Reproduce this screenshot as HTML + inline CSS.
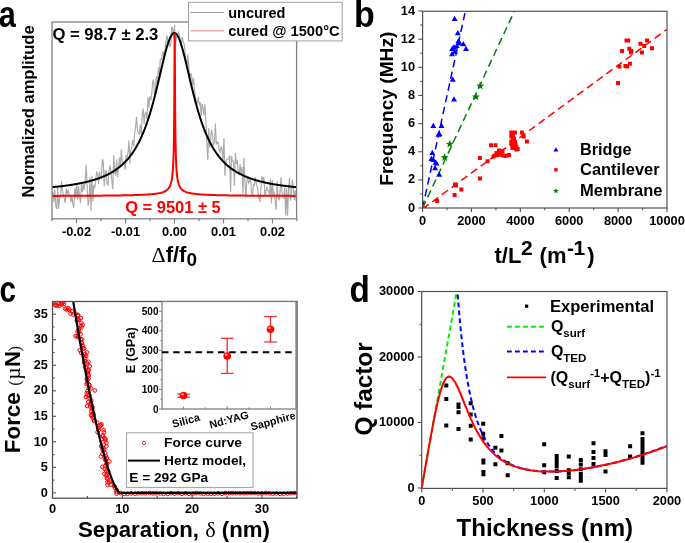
<!DOCTYPE html>
<html><head><meta charset="utf-8"><style>
html,body{margin:0;padding:0;background:#fff;}
svg{display:block;font-family:"Liberation Sans", sans-serif;will-change:transform;}
</style></head><body>
<svg width="685" height="543" viewBox="0 0 685 543">
<rect width="685" height="543" fill="#fff"/>
<clipPath id="ca"><rect x="52.0" y="22.0" width="244.60000000000002" height="196.8"/></clipPath>
<path d="M52 194.53 L52.95 191.61 L53.9 202.16 L54.85 189.24 L55.8 205.91 L56.75 209.05 L57.7 186.49 L58.65 208.85 L59.6 198.36 L60.55 196.59 L61.5 181.12 L62.45 190.49 L63.4 194.32 L64.35 198.91 L65.3 202.9 L66.25 188.55 L67.2 193.89 L68.15 189.93 L69.1 194.95 L70.05 196.03 L71 202.36 L71.95 196.21 L72.9 204.43 L73.85 207.5 L74.8 187.94 L75.75 198.07 L76.7 183.83 L77.65 199.58 L78.6 186.05 L79.55 196.16 L80.5 203.26 L81.45 182.95 L82.4 192.05 L83.35 183.82 L84.3 189.72 L85.25 180.23 L86.2 164.69 L87.15 185.21 L88.1 205.52 L89.05 201.13 L90 176.92 L90.95 210.96 L91.9 175.71 L92.85 201.49 L93.8 185.14 L94.75 187.36 L95.7 180.92 L96.65 172.11 L97.6 173.2 L98.55 183.91 L99.5 171.55 L100.45 177.96 L101.4 178.65 L102.35 159.16 L103.3 161.9 L104.25 186.23 L105.2 171.14 L106.15 170.72 L107.1 183.8 L108.05 184.97 L109 170.01 L109.95 165.29 L110.9 172.7 L111.85 179.87 L112.8 189.22 L113.75 155.63 L114.7 171.62 L115.65 175.52 L116.6 159.26 L117.55 176.89 L118.5 167.68 L119.45 157.65 L120.4 167.07 L121.35 149.62 L122.3 162.35 L123.25 162.47 L124.2 162.52 L125.15 169.8 L126.1 155.76 L127.05 156.85 L128 152.63 L128.95 140.42 L129.9 163.47 L130.85 149.59 L131.8 147.21 L132.75 140.09 L133.7 146.46 L134.65 133.09 L135.6 126.83 L136.55 116.81 L137.5 129.81 L138.45 132.8 L139.4 134.05 L140.35 124.61 L141.3 135.45 L142.25 113.53 L143.2 108.64 L144.15 123.96 L145.1 113.18 L146.05 112.59 L147 119.56 L147.95 97.38 L148.9 107.64 L149.85 96.4 L150.8 100.48 L151.75 93.93 L152.7 81.82 L153.65 79.52 L154.6 98.33 L155.55 87.27 L156.5 76.39 L157.45 84.99 L158.4 67.64 L159.35 74.08 L160.3 59.22 L161.25 59.57 L162.2 55.28 L163.15 51.41 L164.1 58.7 L165.05 51.08 L166 40.85 L166.95 35.27 L167.9 41.27 L168.85 40.74 L169.8 46.49 L170.75 45.32 L171.7 27.11 L172.65 27.96 L173.6 38.08 L174.55 25.07 L175.5 47.39 L176.45 37.03 L177.4 34.2 L178.35 32.21 L179.3 34.83 L180.25 39.82 L181.2 45.23 L182.15 36.94 L183.1 41.51 L184.05 43.54 L185 51.53 L185.95 63.55 L186.9 65.95 L187.85 54 L188.8 66.35 L189.75 78.04 L190.7 73.01 L191.65 76.02 L192.6 84.96 L193.55 78.14 L194.5 90.94 L195.45 97.79 L196.4 101.58 L197.35 102.53 L198.3 97.14 L199.25 104.61 L200.2 102.3 L201.15 116.29 L202.1 103.78 L203.05 108.62 L204 115.46 L204.95 104.27 L205.9 120.24 L206.85 142.78 L207.8 160.19 L208.75 128.29 L209.7 147.66 L210.65 138.78 L211.6 129.57 L212.55 134.84 L213.5 145.44 L214.45 142.67 L215.4 123.45 L216.35 144.5 L217.3 142.41 L218.25 142.31 L219.2 150.28 L220.15 152.13 L221.1 146.43 L222.05 149.47 L223 160.68 L223.95 138.04 L224.9 176.03 L225.85 161.8 L226.8 159.67 L227.75 159.2 L228.7 158.57 L229.65 155.46 L230.6 191.95 L231.55 156.06 L232.5 161.24 L233.45 161.33 L234.4 185.47 L235.35 153.07 L236.3 163.96 L237.25 160.14 L238.2 171.81 L239.15 175.47 L240.1 164.01 L241.05 174.2 L242 166.88 L242.95 193.84 L243.9 157.45 L244.85 180.29 L245.8 197.78 L246.75 181.84 L247.7 176.14 L248.65 182.97 L249.6 181.42 L250.55 179.05 L251.5 192.39 L252.45 196.15 L253.4 184.27 L254.35 185.27 L255.3 177.09 L256.25 183.23 L257.2 186.03 L258.15 193.21 L259.1 198.49 L260.05 202.22 L261 187.53 L261.95 176.38 L262.9 180.76 L263.85 176.87 L264.8 195.18 L265.75 192.83 L266.7 187.04 L267.65 190.33 L268.6 191.11 L269.55 195.07 L270.5 178.63 L271.45 203.5 L272.4 180.05 L273.35 195.3 L274.3 193.13 L275.25 201.69 L276.2 209.65 L277.15 181.35 L278.1 196.77 L279.05 200.31 L280 192.59 L280.95 177.2 L281.9 191.07 L282.85 196.74 L283.8 197.88 L284.75 187.46 L285.7 215.63 L286.65 188.29 L287.6 215.85 L288.55 188.35 L289.5 177.95 L290.45 200.45 L291.4 196.25 L292.35 179.66 L293.3 187.74 L294.25 199.92 L295.2 190.41 L296.15 201.54 L297.1 198.23" fill="none" stroke="#aaaaaa" stroke-width="1.15" clip-path="url(#ca)"/>
<path d="M52 187.22 L52.5 187.17 L53 187.12 L53.5 187.08 L54 187.03 L54.5 186.98 L55 186.92 L55.5 186.87 L56 186.82 L56.5 186.77 L57 186.71 L57.5 186.66 L58 186.61 L58.5 186.55 L59 186.49 L59.5 186.44 L60 186.38 L60.5 186.32 L61 186.26 L61.5 186.2 L62 186.14 L62.5 186.08 L63 186.02 L63.5 185.96 L64 185.89 L64.5 185.83 L65 185.76 L65.5 185.7 L66 185.63 L66.5 185.56 L67 185.49 L67.5 185.42 L68 185.35 L68.5 185.28 L69 185.21 L69.5 185.14 L70 185.06 L70.5 184.99 L71 184.91 L71.5 184.83 L72 184.75 L72.5 184.67 L73 184.59 L73.5 184.51 L74 184.43 L74.5 184.35 L75 184.26 L75.5 184.17 L76 184.09 L76.5 184 L77 183.91 L77.5 183.82 L78 183.72 L78.5 183.63 L79 183.53 L79.5 183.44 L80 183.34 L80.5 183.24 L81 183.14 L81.5 183.03 L82 182.93 L82.5 182.82 L83 182.72 L83.5 182.61 L84 182.5 L84.5 182.39 L85 182.27 L85.5 182.16 L86 182.04 L86.5 181.92 L87 181.8 L87.5 181.67 L88 181.55 L88.5 181.42 L89 181.29 L89.5 181.16 L90 181.03 L90.5 180.89 L91 180.76 L91.5 180.62 L92 180.47 L92.5 180.33 L93 180.18 L93.5 180.03 L94 179.88 L94.5 179.73 L95 179.57 L95.5 179.41 L96 179.25 L96.5 179.09 L97 178.92 L97.5 178.75 L98 178.57 L98.5 178.4 L99 178.22 L99.5 178.03 L100 177.85 L100.5 177.66 L101 177.47 L101.5 177.27 L102 177.07 L102.5 176.87 L103 176.66 L103.5 176.45 L104 176.23 L104.5 176.02 L105 175.79 L105.5 175.57 L106 175.34 L106.5 175.1 L107 174.86 L107.5 174.62 L108 174.37 L108.5 174.11 L109 173.85 L109.5 173.59 L110 173.32 L110.5 173.05 L111 172.77 L111.5 172.48 L112 172.19 L112.5 171.89 L113 171.59 L113.5 171.28 L114 170.97 L114.5 170.65 L115 170.32 L115.5 169.98 L116 169.64 L116.5 169.29 L117 168.94 L117.5 168.57 L118 168.2 L118.5 167.82 L119 167.44 L119.5 167.04 L120 166.64 L120.5 166.22 L121 165.8 L121.5 165.37 L122 164.93 L122.5 164.48 L123 164.02 L123.5 163.55 L124 163.06 L124.5 162.57 L125 162.07 L125.5 161.55 L126 161.03 L126.5 160.49 L127 159.94 L127.5 159.37 L128 158.8 L128.5 158.21 L129 157.6 L129.5 156.98 L130 156.35 L130.5 155.7 L131 155.04 L131.5 154.36 L132 153.67 L132.5 152.95 L133 152.22 L133.5 151.48 L134 150.71 L134.5 149.93 L135 149.13 L135.5 148.31 L136 147.46 L136.5 146.6 L137 145.72 L137.5 144.81 L138 143.88 L138.5 142.93 L139 141.96 L139.5 140.96 L140 139.94 L140.5 138.89 L141 137.82 L141.5 136.72 L142 135.59 L142.5 134.44 L143 133.26 L143.5 132.05 L144 130.81 L144.5 129.54 L145 128.24 L145.5 126.91 L146 125.55 L146.5 124.15 L147 122.73 L147.5 121.27 L148 119.78 L148.5 118.25 L149 116.7 L149.5 115.1 L150 113.48 L150.5 111.82 L151 110.13 L151.5 108.4 L152 106.64 L152.5 104.85 L153 103.02 L153.5 101.16 L154 99.27 L154.5 97.35 L155 95.4 L155.5 93.42 L156 91.42 L156.5 89.39 L157 87.33 L157.5 85.26 L158 83.16 L158.5 81.06 L159 78.93 L159.5 76.8 L160 74.66 L160.5 72.52 L161 70.38 L161.5 68.24 L162 66.12 L162.5 64.01 L163 61.92 L163.5 59.85 L164 57.82 L164.5 55.82 L165 53.86 L165.5 51.96 L166 50.11 L166.5 48.32 L167 46.6 L167.5 44.96 L168 43.4 L168.5 41.92 L169 40.54 L169.5 39.26 L170 38.09 L170.5 37.03 L171 36.08 L171.5 35.25 L172 34.55 L172.5 33.97 L173 33.53 L173.5 33.22 L174 33.04 L174.5 33 L175 33.1 L175.5 33.33 L176 33.69 L176.5 34.19 L177 34.81 L177.5 35.57 L178 36.44 L178.5 37.44 L179 38.55 L179.5 39.76 L180 41.08 L180.5 42.5 L181 44.01 L181.5 45.61 L182 47.28 L182.5 49.03 L183 50.84 L183.5 52.72 L184 54.64 L184.5 56.61 L185 58.63 L185.5 60.67 L186 62.75 L186.5 64.85 L187 66.97 L187.5 69.1 L188 71.23 L188.5 73.38 L189 75.52 L189.5 77.65 L190 79.78 L190.5 81.9 L191 84 L191.5 86.09 L192 88.16 L192.5 90.2 L193 92.22 L193.5 94.22 L194 96.18 L194.5 98.12 L195 100.03 L195.5 101.91 L196 103.75 L196.5 105.57 L197 107.35 L197.5 109.09 L198 110.81 L198.5 112.49 L199 114.13 L199.5 115.75 L200 117.32 L200.5 118.87 L201 120.38 L201.5 121.86 L202 123.3 L202.5 124.71 L203 126.09 L203.5 127.44 L204 128.76 L204.5 130.05 L205 131.31 L205.5 132.53 L206 133.73 L206.5 134.9 L207 136.05 L207.5 137.16 L208 138.25 L208.5 139.31 L209 140.35 L209.5 141.36 L210 142.35 L210.5 143.32 L211 144.26 L211.5 145.18 L212 146.07 L212.5 146.95 L213 147.8 L213.5 148.64 L214 149.45 L214.5 150.25 L215 151.02 L215.5 151.78 L216 152.52 L216.5 153.24 L217 153.95 L217.5 154.64 L218 155.31 L218.5 155.96 L219 156.61 L219.5 157.23 L220 157.85 L220.5 158.45 L221 159.03 L221.5 159.6 L222 160.16 L222.5 160.71 L223 161.24 L223.5 161.76 L224 162.27 L224.5 162.77 L225 163.26 L225.5 163.74 L226 164.2 L226.5 164.66 L227 165.11 L227.5 165.54 L228 165.97 L228.5 166.39 L229 166.8 L229.5 167.2 L230 167.59 L230.5 167.98 L231 168.35 L231.5 168.72 L232 169.08 L232.5 169.43 L233 169.78 L233.5 170.12 L234 170.45 L234.5 170.78 L235 171.1 L235.5 171.41 L236 171.71 L236.5 172.01 L237 172.31 L237.5 172.6 L238 172.88 L238.5 173.16 L239 173.43 L239.5 173.7 L240 173.96 L240.5 174.22 L241 174.47 L241.5 174.71 L242 174.96 L242.5 175.19 L243 175.43 L243.5 175.66 L244 175.88 L244.5 176.1 L245 176.32 L245.5 176.53 L246 176.74 L246.5 176.95 L247 177.15 L247.5 177.35 L248 177.54 L248.5 177.73 L249 177.92 L249.5 178.11 L250 178.29 L250.5 178.47 L251 178.64 L251.5 178.82 L252 178.98 L252.5 179.15 L253 179.32 L253.5 179.48 L254 179.63 L254.5 179.79 L255 179.94 L255.5 180.09 L256 180.24 L256.5 180.39 L257 180.53 L257.5 180.67 L258 180.81 L258.5 180.95 L259 181.08 L259.5 181.22 L260 181.35 L260.5 181.47 L261 181.6 L261.5 181.72 L262 181.85 L262.5 181.97 L263 182.09 L263.5 182.2 L264 182.32 L264.5 182.43 L265 182.54 L265.5 182.65 L266 182.76 L266.5 182.87 L267 182.97 L267.5 183.08 L268 183.18 L268.5 183.28 L269 183.38 L269.5 183.48 L270 183.57 L270.5 183.67 L271 183.76 L271.5 183.85 L272 183.94 L272.5 184.03 L273 184.12 L273.5 184.21 L274 184.29 L274.5 184.38 L275 184.46 L275.5 184.55 L276 184.63 L276.5 184.71 L277 184.79 L277.5 184.86 L278 184.94 L278.5 185.02 L279 185.09 L279.5 185.17 L280 185.24 L280.5 185.31 L281 185.38 L281.5 185.45 L282 185.52 L282.5 185.59 L283 185.66 L283.5 185.72 L284 185.79 L284.5 185.85 L285 185.92 L285.5 185.98 L286 186.04 L286.5 186.11 L287 186.17 L287.5 186.23 L288 186.29 L288.5 186.34 L289 186.4 L289.5 186.46 L290 186.52 L290.5 186.57 L291 186.63 L291.5 186.68 L292 186.74 L292.5 186.79 L293 186.84 L293.5 186.89 L294 186.94 L294.5 187 L295 187.05 L295.5 187.1 L296 187.14 L296.5 187.19" fill="none" stroke="#000" stroke-width="2" clip-path="url(#ca)"/>
<path d="M52 195.9 L53 195.9 L54 195.89 L55 195.89 L56 195.89 L57 195.88 L58 195.88 L59 195.88 L60 195.87 L61 195.87 L62 195.87 L63 195.86 L64 195.86 L65 195.85 L66 195.85 L67 195.85 L68 195.84 L69 195.84 L70 195.83 L71 195.83 L72 195.82 L73 195.82 L74 195.81 L75 195.81 L76 195.8 L77 195.8 L78 195.79 L79 195.79 L80 195.78 L81 195.78 L82 195.77 L83 195.77 L84 195.76 L85 195.75 L86 195.75 L87 195.74 L88 195.73 L89 195.73 L90 195.72 L91 195.71 L92 195.71 L93 195.7 L94 195.69 L95 195.69 L96 195.68 L97 195.67 L98 195.66 L99 195.65 L100 195.64 L101 195.64 L102 195.63 L103 195.62 L104 195.61 L105 195.6 L106 195.59 L107 195.58 L108 195.57 L109 195.55 L110 195.54 L111 195.53 L112 195.52 L113 195.51 L114 195.49 L115 195.48 L116 195.47 L117 195.45 L118 195.44 L119 195.42 L120 195.4 L121 195.39 L122 195.37 L123 195.35 L124 195.33 L125 195.31 L126 195.29 L127 195.27 L128 195.25 L129 195.23 L130 195.2 L131 195.18 L132 195.15 L133 195.13 L134 195.1 L135 195.07 L136 195.03 L137 195 L138 194.97 L139 194.93 L140 194.89 L141 194.85 L142 194.8 L143 194.75 L144 194.7 L145 194.65 L146 194.59 L147 194.53 L148 194.47 L149 194.39 L150 194.32 L151 194.23 L152 194.14 L153 194.04 L154 193.93 L155 193.81 L156 193.68 L157 193.53 L158 193.37 L159 193.18 L160 192.97 L161 192.72 L162 192.44 L163 192.11 L164 191.72 L165 191.25 L166 190.67 L167 189.94 L167.05 189.9 L167.1 189.86 L167.15 189.82 L167.2 189.77 L167.25 189.73 L167.3 189.69 L167.35 189.64 L167.4 189.59 L167.45 189.55 L167.5 189.5 L167.55 189.45 L167.6 189.41 L167.65 189.36 L167.7 189.31 L167.75 189.26 L167.8 189.21 L167.85 189.16 L167.9 189.1 L167.95 189.05 L168 189 L168.05 188.94 L168.1 188.88 L168.15 188.83 L168.2 188.77 L168.25 188.71 L168.3 188.65 L168.35 188.59 L168.4 188.53 L168.45 188.47 L168.5 188.41 L168.55 188.34 L168.6 188.28 L168.65 188.21 L168.7 188.15 L168.75 188.08 L168.8 188.01 L168.85 187.94 L168.9 187.86 L168.95 187.79 L169 187.72 L169.05 187.64 L169.1 187.56 L169.15 187.49 L169.2 187.41 L169.25 187.32 L169.3 187.24 L169.35 187.16 L169.4 187.07 L169.45 186.98 L169.5 186.89 L169.55 186.8 L169.6 186.71 L169.65 186.62 L169.7 186.52 L169.75 186.42 L169.8 186.32 L169.85 186.22 L169.9 186.11 L169.95 186.01 L170 185.9 L170.05 185.79 L170.1 185.67 L170.15 185.56 L170.2 185.44 L170.25 185.32 L170.3 185.19 L170.35 185.06 L170.4 184.93 L170.45 184.8 L170.5 184.67 L170.55 184.53 L170.6 184.38 L170.65 184.24 L170.7 184.09 L170.75 183.93 L170.8 183.78 L170.85 183.61 L170.9 183.45 L170.95 183.28 L171 183.1 L171.05 182.92 L171.1 182.74 L171.15 182.55 L171.2 182.35 L171.25 182.15 L171.3 181.95 L171.35 181.73 L171.4 181.52 L171.45 181.29 L171.5 181.06 L171.55 180.82 L171.6 180.57 L171.65 180.31 L171.7 180.05 L171.75 179.78 L171.8 179.5 L171.85 179.2 L171.9 178.9 L171.95 178.59 L172 178.27 L172.05 177.93 L172.1 177.58 L172.15 177.22 L172.2 176.84 L172.25 176.45 L172.3 176.05 L172.35 175.62 L172.4 175.18 L172.45 174.72 L172.5 174.24 L172.55 173.73 L172.6 173.21 L172.65 172.65 L172.7 172.08 L172.75 171.47 L172.8 170.83 L172.85 170.16 L172.9 169.45 L172.95 168.71 L173 167.92 L173.05 167.09 L173.1 166.21 L173.15 165.27 L173.2 164.27 L173.25 163.21 L173.3 162.08 L173.35 160.88 L173.4 159.58 L173.45 158.19 L173.5 156.69 L173.55 155.08 L173.6 153.33 L173.65 151.44 L173.7 149.38 L173.75 147.13 L173.8 144.66 L173.85 141.95 L173.9 138.96 L173.95 135.65 L174 131.97 L174.05 127.87 L174.1 123.27 L174.15 118.1 L174.2 112.28 L174.25 105.72 L174.3 98.32 L174.35 90.03 L174.4 80.83 L174.45 70.85 L174.5 60.43 L174.55 50.24 L174.6 41.38 L174.65 35.22 L174.7 33 L174.75 35.22 L174.8 41.38 L174.85 50.24 L174.9 60.43 L174.95 70.85 L175 80.83 L175.05 90.03 L175.1 98.32 L175.15 105.72 L175.2 112.28 L175.25 118.1 L175.3 123.27 L175.35 127.87 L175.4 131.97 L175.45 135.65 L175.5 138.96 L175.55 141.95 L175.6 144.66 L175.65 147.13 L175.7 149.38 L175.75 151.44 L175.8 153.33 L175.85 155.08 L175.9 156.69 L175.95 158.19 L176 159.58 L176.05 160.88 L176.1 162.08 L176.15 163.21 L176.2 164.27 L176.25 165.27 L176.3 166.21 L176.35 167.09 L176.4 167.92 L176.45 168.71 L176.5 169.45 L176.55 170.16 L176.6 170.83 L176.65 171.47 L176.7 172.08 L176.75 172.65 L176.8 173.21 L176.85 173.73 L176.9 174.24 L176.95 174.72 L177 175.18 L177.05 175.62 L177.1 176.05 L177.15 176.45 L177.2 176.84 L177.25 177.22 L177.3 177.58 L177.35 177.93 L177.4 178.27 L177.45 178.59 L177.5 178.9 L177.55 179.2 L177.6 179.5 L177.65 179.78 L177.7 180.05 L177.75 180.31 L177.8 180.57 L177.85 180.82 L177.9 181.06 L177.95 181.29 L178 181.52 L178.05 181.73 L178.1 181.95 L178.15 182.15 L178.2 182.35 L178.25 182.55 L178.3 182.74 L178.35 182.92 L178.4 183.1 L178.45 183.28 L178.5 183.45 L178.55 183.61 L178.6 183.78 L178.65 183.93 L178.7 184.09 L178.75 184.24 L178.8 184.38 L178.85 184.53 L178.9 184.67 L178.95 184.8 L179 184.93 L179.05 185.06 L179.1 185.19 L179.15 185.32 L179.2 185.44 L179.25 185.56 L179.3 185.67 L179.35 185.79 L179.4 185.9 L179.45 186.01 L179.5 186.11 L179.55 186.22 L179.6 186.32 L179.65 186.42 L179.7 186.52 L179.75 186.62 L179.8 186.71 L179.85 186.8 L179.9 186.89 L179.95 186.98 L180 187.07 L180.05 187.16 L180.1 187.24 L180.15 187.32 L180.2 187.41 L180.25 187.49 L180.3 187.56 L180.35 187.64 L180.4 187.72 L180.45 187.79 L180.5 187.86 L180.55 187.94 L180.6 188.01 L180.65 188.08 L180.7 188.15 L180.75 188.21 L180.8 188.28 L180.85 188.34 L180.9 188.41 L180.95 188.47 L181 188.53 L181.05 188.59 L181.1 188.65 L181.15 188.71 L181.2 188.77 L181.25 188.83 L181.3 188.88 L181.35 188.94 L181.4 189 L181.45 189.05 L181.5 189.1 L181.55 189.16 L181.6 189.21 L181.65 189.26 L181.7 189.31 L181.75 189.36 L181.8 189.41 L181.85 189.45 L181.9 189.5 L181.95 189.55 L182 189.59 L182.05 189.64 L182.1 189.69 L182.15 189.73 L182.2 189.77 L182.25 189.82 L182.3 189.86 L182.35 189.9 L182.4 189.94 L182.45 189.98 L182.5 190.02 L182.55 190.06 L182.6 190.1 L182.65 190.14 L182.7 190.18 L183.7 190.86 L184.7 191.4 L185.7 191.85 L186.7 192.22 L187.7 192.53 L188.7 192.8 L189.7 193.03 L190.7 193.24 L191.7 193.42 L192.7 193.58 L193.7 193.72 L194.7 193.85 L195.7 193.97 L196.7 194.07 L197.7 194.17 L198.7 194.26 L199.7 194.34 L200.7 194.42 L201.7 194.49 L202.7 194.55 L203.7 194.61 L204.7 194.67 L205.7 194.72 L206.7 194.77 L207.7 194.82 L208.7 194.86 L209.7 194.9 L210.7 194.94 L211.7 194.98 L212.7 195.01 L213.7 195.04 L214.7 195.08 L215.7 195.11 L216.7 195.13 L217.7 195.16 L218.7 195.19 L219.7 195.21 L220.7 195.24 L221.7 195.26 L222.7 195.28 L223.7 195.3 L224.7 195.32 L225.7 195.34 L226.7 195.36 L227.7 195.38 L228.7 195.39 L229.7 195.41 L230.7 195.43 L231.7 195.44 L232.7 195.46 L233.7 195.47 L234.7 195.48 L235.7 195.5 L236.7 195.51 L237.7 195.52 L238.7 195.53 L239.7 195.55 L240.7 195.56 L241.7 195.57 L242.7 195.58 L243.7 195.59 L244.7 195.6 L245.7 195.61 L246.7 195.62 L247.7 195.63 L248.7 195.64 L249.7 195.65 L250.7 195.66 L251.7 195.66 L252.7 195.67 L253.7 195.68 L254.7 195.69 L255.7 195.7 L256.7 195.7 L257.7 195.71 L258.7 195.72 L259.7 195.72 L260.7 195.73 L261.7 195.74 L262.7 195.74 L263.7 195.75 L264.7 195.76 L265.7 195.76 L266.7 195.77 L267.7 195.77 L268.7 195.78 L269.7 195.78 L270.7 195.79 L271.7 195.79 L272.7 195.8 L273.7 195.81 L274.7 195.81 L275.7 195.81 L276.7 195.82 L277.7 195.82 L278.7 195.83 L279.7 195.83 L280.7 195.84 L281.7 195.84 L282.7 195.85 L283.7 195.85 L284.7 195.85 L285.7 195.86 L286.7 195.86 L287.7 195.87 L288.7 195.87 L289.7 195.87 L290.7 195.88 L291.7 195.88 L292.7 195.88 L293.7 195.89 L294.7 195.89 L295.7 195.9" fill="none" stroke="#f00" stroke-width="2" clip-path="url(#ca)"/>
<rect x="52.0" y="22.0" width="244.60000000000002" height="196.8" fill="none" stroke="#808080" stroke-width="1.3"/>
<line x1="52" y1="218.8" x2="52" y2="221.3" stroke="#808080" stroke-width="1.2"/>
<line x1="76.5" y1="218.8" x2="76.5" y2="223.3" stroke="#808080" stroke-width="1.2"/>
<line x1="101" y1="218.8" x2="101" y2="221.3" stroke="#808080" stroke-width="1.2"/>
<line x1="125.5" y1="218.8" x2="125.5" y2="223.3" stroke="#808080" stroke-width="1.2"/>
<line x1="150" y1="218.8" x2="150" y2="221.3" stroke="#808080" stroke-width="1.2"/>
<line x1="174.5" y1="218.8" x2="174.5" y2="223.3" stroke="#808080" stroke-width="1.2"/>
<line x1="199" y1="218.8" x2="199" y2="221.3" stroke="#808080" stroke-width="1.2"/>
<line x1="223.5" y1="218.8" x2="223.5" y2="223.3" stroke="#808080" stroke-width="1.2"/>
<line x1="248" y1="218.8" x2="248" y2="221.3" stroke="#808080" stroke-width="1.2"/>
<line x1="272.5" y1="218.8" x2="272.5" y2="223.3" stroke="#808080" stroke-width="1.2"/>
<line x1="297" y1="218.8" x2="297" y2="221.3" stroke="#808080" stroke-width="1.2"/>
<text x="76.5" y="236" font-size="12.8" font-weight="bold" text-anchor="middle">-0.02</text>
<text x="125.5" y="236" font-size="12.8" font-weight="bold" text-anchor="middle">-0.01</text>
<text x="174.5" y="236" font-size="12.8" font-weight="bold" text-anchor="middle">0.00</text>
<text x="223.5" y="236" font-size="12.8" font-weight="bold" text-anchor="middle">0.01</text>
<text x="272.5" y="236" font-size="12.8" font-weight="bold" text-anchor="middle">0.02</text>
<text x="52.4" y="39.6" font-size="16" font-weight="bold" textLength="106" lengthAdjust="spacingAndGlyphs">Q = 98.7 ± 2.3</text>
<text x="125.2" y="213.4" font-size="16" font-weight="bold" fill="#f00" textLength="95.5" lengthAdjust="spacingAndGlyphs">Q = 9501 ± 5</text>
<rect x="188.5" y="2.3" width="153.7" height="38.6" fill="#fff" stroke="#a0a0a0" stroke-width="1"/>
<line x1="190.4" y1="12.5" x2="224" y2="12.5" stroke="#999" stroke-width="1"/>
<line x1="190.4" y1="30.8" x2="224" y2="30.8" stroke="#f4a8a8" stroke-width="1.5"/>
<text x="228.2" y="17.5" font-size="14.5" font-weight="bold">uncured</text>
<text x="228.2" y="35.7" font-size="14.5" font-weight="bold" textLength="111.4" lengthAdjust="spacingAndGlyphs">cured @ 1500°C</text>
<text transform="translate(33.9,197.4) rotate(-90)" font-size="16.5" font-weight="bold" textLength="172" lengthAdjust="spacingAndGlyphs">Normalized amplitude</text>
<text x="151.5" y="261.8" font-size="22" font-weight="bold"><tspan font-family="Liberation Serif" font-weight="normal">Δ</tspan>f/f<tspan font-size="19" dy="4.5">0</tspan></text>
<text transform="translate(-1.2,26.9) scale(0.83,1)" font-size="37" font-weight="bold">a</text>
<clipPath id="cb"><rect x="422.6" y="11.3" width="244.39999999999998" height="196.7"/></clipPath>
<line x1="422.6" y1="208" x2="465.39" y2="11.02" stroke="#0000ff" stroke-width="1.5" stroke-dasharray="7.5 4.5" clip-path="url(#cb)"/>
<line x1="422.6" y1="208" x2="514.49" y2="11.02" stroke="#008000" stroke-width="1.5" stroke-dasharray="7.5 4.5" clip-path="url(#cb)"/>
<line x1="422.6" y1="208.9" x2="667" y2="29.33" stroke="#ff0000" stroke-width="1.5" stroke-dasharray="7.5 4.5" clip-path="url(#cb)"/>
<path d="M454.6 15.7 L457.6 20.9 L451.6 20.9 Z M457.8 30 L460.8 35.2 L454.8 35.2 Z M458.3 38.3 L461.3 43.5 L455.3 43.5 Z M459.6 40.1 L462.6 45.3 L456.6 45.3 Z M463.3 41 L466.3 46.2 L460.3 46.2 Z M466 45.7 L469 50.9 L463 50.9 Z M452.2 45.7 L455.2 50.9 L449.2 50.9 Z M455 48.5 L458 53.7 L452 53.7 Z M452 51 L455 56.2 L449 56.2 Z M456.8 42.9 L459.8 48.1 L453.8 48.1 Z M454 44 L457 49.2 L451 49.2 Z M452.8 76.6 L455.8 81.8 L449.8 81.8 Z M454 96.3 L457 101.5 L451 101.5 Z M433.3 122.7 L436.3 127.9 L430.3 127.9 Z M441.5 122.7 L444.5 127.9 L438.5 127.9 Z M438.4 131.5 L441.4 136.7 L435.4 136.7 Z M439.5 131 L442.5 136.2 L436.5 136.2 Z M432.3 149.7 L435.3 154.9 L429.3 154.9 Z M431.4 155.8 L434.4 161 L428.4 161 Z M433.3 156.7 L436.3 161.9 L430.3 161.9 Z M435.6 159.5 L438.6 164.7 L432.6 164.7 Z M436.6 160.4 L439.6 165.6 L433.6 165.6 Z M435.1 165 L438.1 170.2 L432.1 170.2 Z M439.2 171.5 L442.2 176.7 L436.2 176.7 Z" fill="#0000ff" clip-path="url(#cb)"/>
<path d="M477.9 155.9h4v4h-4Z M485.6 159.2h4v4h-4Z M477.9 176.5h4v4h-4Z M453 182.6h4v4h-4Z M454 183.5h4v4h-4Z M459.3 187.6h4v4h-4Z M452.6 193h4v4h-4Z M435.1 199h4v4h-4Z M489 143.3h4v4h-4Z M493.6 143.3h4v4h-4Z M496.9 148.4h4v4h-4Z M498.7 149.7h4v4h-4Z M500.5 149.3h4v4h-4Z M492.7 153.4h4v4h-4Z M495.5 153h4v4h-4Z M501 153.4h4v4h-4Z M505.6 153.4h4v4h-4Z M507 153h4v4h-4Z M509.3 130.4h4v4h-4Z M513 130.4h4v4h-4Z M509.3 134.6h4v4h-4Z M512 136.4h4v4h-4Z M509.3 139.6h4v4h-4Z M513 140h4v4h-4Z M510.2 143.3h4v4h-4Z M514.3 144.7h4v4h-4Z M514.3 147.4h4v4h-4Z M515.7 147h4v4h-4Z M519.9 130.4h4v4h-4Z M521.7 134.6h4v4h-4Z M524.9 139.6h4v4h-4Z M511 132.5h4v4h-4Z M511 137.5h4v4h-4Z M509.5 142h4v4h-4Z M513.5 142.5h4v4h-4Z M494.5 151h4v4h-4Z M497 152.5h4v4h-4Z M503.5 154h4v4h-4Z M491.5 154.5h4v4h-4Z M510.5 146h4v4h-4Z M624.5 38.5h4v4h-4Z M626.2 38.5h4v4h-4Z M645 38.5h4v4h-4Z M638.4 41.8h4v4h-4Z M642.2 44h4v4h-4Z M650 46.2h4v4h-4Z M620.1 49h4v4h-4Z M627.3 46.8h4v4h-4Z M629.5 49h4v4h-4Z M629 50.6h4v4h-4Z M640 50.6h4v4h-4Z M617.4 64.4h4v4h-4Z M623.4 63.9h4v4h-4Z M625.1 64.4h4v4h-4Z M627.9 61.7h4v4h-4Z M616 81h4v4h-4Z" fill="#ff0000" clip-path="url(#cb)"/>
<rect x="424.5" y="206" width="2.2" height="2" fill="#ff0000"/>
<path d="M480.2 81.8 L481.26 84.54 L484.19 84.7 L481.91 86.56 L482.67 89.4 L480.2 87.8 L477.73 89.4 L478.49 86.56 L476.21 84.7 L479.14 84.54Z M476 92.7 L477.06 95.44 L479.99 95.6 L477.71 97.46 L478.47 100.3 L476 98.7 L473.53 100.3 L474.29 97.46 L472.01 95.6 L474.94 95.44Z M449.8 140 L450.86 142.74 L453.79 142.9 L451.51 144.76 L452.27 147.6 L449.8 146 L447.33 147.6 L448.09 144.76 L445.81 142.9 L448.74 142.74Z M444.7 153.3 L445.76 156.04 L448.69 156.2 L446.41 158.06 L447.17 160.9 L444.7 159.3 L442.23 160.9 L442.99 158.06 L440.71 156.2 L443.64 156.04Z" fill="#008000"/>
<rect x="422.6" y="11.3" width="244.39999999999998" height="196.7" fill="none" stroke="#505050" stroke-width="1.2"/>
<line x1="418.3" y1="208" x2="422.6" y2="208" stroke="#505050" stroke-width="1.1"/>
<text x="415" y="211.5" font-size="12.8" font-weight="bold" text-anchor="end">0</text>
<line x1="420.3" y1="193.93" x2="422.6" y2="193.93" stroke="#505050" stroke-width="1.1"/>
<line x1="418.3" y1="179.86" x2="422.6" y2="179.86" stroke="#505050" stroke-width="1.1"/>
<text x="415" y="183.36" font-size="12.8" font-weight="bold" text-anchor="end">2</text>
<line x1="420.3" y1="165.79" x2="422.6" y2="165.79" stroke="#505050" stroke-width="1.1"/>
<line x1="418.3" y1="151.72" x2="422.6" y2="151.72" stroke="#505050" stroke-width="1.1"/>
<text x="415" y="155.22" font-size="12.8" font-weight="bold" text-anchor="end">4</text>
<line x1="420.3" y1="137.65" x2="422.6" y2="137.65" stroke="#505050" stroke-width="1.1"/>
<line x1="418.3" y1="123.58" x2="422.6" y2="123.58" stroke="#505050" stroke-width="1.1"/>
<text x="415" y="127.08" font-size="12.8" font-weight="bold" text-anchor="end">6</text>
<line x1="420.3" y1="109.51" x2="422.6" y2="109.51" stroke="#505050" stroke-width="1.1"/>
<line x1="418.3" y1="95.44" x2="422.6" y2="95.44" stroke="#505050" stroke-width="1.1"/>
<text x="415" y="98.94" font-size="12.8" font-weight="bold" text-anchor="end">8</text>
<line x1="420.3" y1="81.37" x2="422.6" y2="81.37" stroke="#505050" stroke-width="1.1"/>
<line x1="418.3" y1="67.3" x2="422.6" y2="67.3" stroke="#505050" stroke-width="1.1"/>
<text x="415" y="70.8" font-size="12.8" font-weight="bold" text-anchor="end">10</text>
<line x1="420.3" y1="53.23" x2="422.6" y2="53.23" stroke="#505050" stroke-width="1.1"/>
<line x1="418.3" y1="39.16" x2="422.6" y2="39.16" stroke="#505050" stroke-width="1.1"/>
<text x="415" y="42.66" font-size="12.8" font-weight="bold" text-anchor="end">12</text>
<line x1="420.3" y1="25.09" x2="422.6" y2="25.09" stroke="#505050" stroke-width="1.1"/>
<line x1="418.3" y1="11.02" x2="422.6" y2="11.02" stroke="#505050" stroke-width="1.1"/>
<text x="415" y="14.52" font-size="12.8" font-weight="bold" text-anchor="end">14</text>
<line x1="422.6" y1="208.0" x2="422.6" y2="212.0" stroke="#505050" stroke-width="1.1"/>
<text x="422.6" y="225" font-size="12.8" font-weight="bold" text-anchor="middle">0</text>
<line x1="447.04" y1="208.0" x2="447.04" y2="210.3" stroke="#505050" stroke-width="1.1"/>
<line x1="471.48" y1="208.0" x2="471.48" y2="212.0" stroke="#505050" stroke-width="1.1"/>
<text x="471.48" y="225" font-size="12.8" font-weight="bold" text-anchor="middle">2000</text>
<line x1="495.92" y1="208.0" x2="495.92" y2="210.3" stroke="#505050" stroke-width="1.1"/>
<line x1="520.36" y1="208.0" x2="520.36" y2="212.0" stroke="#505050" stroke-width="1.1"/>
<text x="520.36" y="225" font-size="12.8" font-weight="bold" text-anchor="middle">4000</text>
<line x1="544.8" y1="208.0" x2="544.8" y2="210.3" stroke="#505050" stroke-width="1.1"/>
<line x1="569.24" y1="208.0" x2="569.24" y2="212.0" stroke="#505050" stroke-width="1.1"/>
<text x="569.24" y="225" font-size="12.8" font-weight="bold" text-anchor="middle">6000</text>
<line x1="593.68" y1="208.0" x2="593.68" y2="210.3" stroke="#505050" stroke-width="1.1"/>
<line x1="618.12" y1="208.0" x2="618.12" y2="212.0" stroke="#505050" stroke-width="1.1"/>
<text x="618.12" y="225" font-size="12.8" font-weight="bold" text-anchor="middle">8000</text>
<line x1="642.56" y1="208.0" x2="642.56" y2="210.3" stroke="#505050" stroke-width="1.1"/>
<line x1="667" y1="208.0" x2="667" y2="212.0" stroke="#505050" stroke-width="1.1"/>
<text x="667" y="225" font-size="12.8" font-weight="bold" text-anchor="middle">10000</text>
<path d="M555.9 147.3 L558.4 151.5 L553.4 151.5Z" fill="#0000ff"/>
<rect x="554.2" y="168.1" width="3.4" height="3.4" fill="#ff0000"/>
<path d="M555.9 188 L556.66 189.95 L558.75 190.07 L557.14 191.4 L557.66 193.43 L555.9 192.3 L554.14 193.43 L554.66 191.4 L553.05 190.07 L555.14 189.95Z" fill="#008000"/>
<text x="580" y="155" font-size="16" font-weight="bold" textLength="51.5" lengthAdjust="spacingAndGlyphs">Bridge</text>
<text x="580" y="175.1" font-size="16" font-weight="bold" textLength="79.6" lengthAdjust="spacingAndGlyphs">Cantilever</text>
<text x="580" y="195.6" font-size="16" font-weight="bold" textLength="82.5" lengthAdjust="spacingAndGlyphs">Membrane</text>
<text transform="translate(393.2,185.8) rotate(-90)" font-size="19" font-weight="bold" textLength="154.2" lengthAdjust="spacingAndGlyphs">Frequency (MHz)</text>
<g font-weight="bold"><text x="494.5" y="262.8" font-size="22">t/L</text><text x="520.9" y="254.6" font-size="21">2</text><text x="539.6" y="262.8" font-size="22">(m</text><text x="567" y="254.6" font-size="21">-</text><text x="573.6" y="254.6" font-size="21">1</text><text x="587.2" y="262.8" font-size="22">)</text></g>
<text transform="translate(354,27.2) scale(0.92,1)" font-size="37" font-weight="bold">b</text>
<clipPath id="cc"><rect x="52.5" y="301.5" width="244.5" height="196.7"/></clipPath>
<g fill="none" stroke="#ff0000" stroke-width="1" clip-path="url(#cc)"><circle cx="51.52" cy="303.45" r="1.85"/><circle cx="52.58" cy="301.6" r="1.85"/><circle cx="53.93" cy="302.31" r="1.85"/><circle cx="55.16" cy="305.11" r="1.85"/><circle cx="56.22" cy="305.42" r="1.85"/><circle cx="57.06" cy="305.49" r="1.85"/><circle cx="58.76" cy="303.81" r="1.85"/><circle cx="59.4" cy="305.89" r="1.85"/><circle cx="61.09" cy="303.51" r="1.85"/><circle cx="61.77" cy="304.31" r="1.85"/><circle cx="62.61" cy="302.64" r="1.85"/><circle cx="63.92" cy="303.95" r="1.85"/><circle cx="64.9" cy="308.67" r="1.85"/><circle cx="66.57" cy="308.53" r="1.85"/><circle cx="67.5" cy="310.09" r="1.85"/><circle cx="68.45" cy="308.42" r="1.85"/><circle cx="69.32" cy="309.9" r="1.85"/><circle cx="70.55" cy="313.68" r="1.85"/><circle cx="71.85" cy="311.3" r="1.85"/><circle cx="73.09" cy="314.52" r="1.85"/><circle cx="75.62" cy="313.76" r="1.85"/><circle cx="78.02" cy="314.95" r="1.85"/><circle cx="78.15" cy="315.98" r="1.85"/><circle cx="80.87" cy="318.05" r="1.85"/><circle cx="78.74" cy="319.64" r="1.85"/><circle cx="77.82" cy="319.3" r="1.85"/><circle cx="76.97" cy="320.74" r="1.85"/><circle cx="81.34" cy="322.8" r="1.85"/><circle cx="82.63" cy="324.73" r="1.85"/><circle cx="80.82" cy="325.72" r="1.85"/><circle cx="81.35" cy="327.35" r="1.85"/><circle cx="79.18" cy="328.52" r="1.85"/><circle cx="78.53" cy="330.39" r="1.85"/><circle cx="79.29" cy="331.98" r="1.85"/><circle cx="77.58" cy="331.59" r="1.85"/><circle cx="80.6" cy="334.25" r="1.85"/><circle cx="76.72" cy="335.87" r="1.85"/><circle cx="75.61" cy="336.17" r="1.85"/><circle cx="78.16" cy="337.03" r="1.85"/><circle cx="82.02" cy="339.29" r="1.85"/><circle cx="80.84" cy="339.86" r="1.85"/><circle cx="81.37" cy="342.66" r="1.85"/><circle cx="81.78" cy="343.28" r="1.85"/><circle cx="82.15" cy="345.62" r="1.85"/><circle cx="83.26" cy="346.35" r="1.85"/><circle cx="82.92" cy="348.4" r="1.85"/><circle cx="83.95" cy="348.57" r="1.85"/><circle cx="79.67" cy="350.22" r="1.85"/><circle cx="81.09" cy="352.69" r="1.85"/><circle cx="86.88" cy="352.45" r="1.85"/><circle cx="85.09" cy="353.99" r="1.85"/><circle cx="86.18" cy="355.88" r="1.85"/><circle cx="84.3" cy="356.29" r="1.85"/><circle cx="85.18" cy="358.5" r="1.85"/><circle cx="84.73" cy="360.95" r="1.85"/><circle cx="88.35" cy="361.8" r="1.85"/><circle cx="84.44" cy="363.15" r="1.85"/><circle cx="86.9" cy="363.29" r="1.85"/><circle cx="89.83" cy="366.31" r="1.85"/><circle cx="85.56" cy="367.53" r="1.85"/><circle cx="86.05" cy="367.52" r="1.85"/><circle cx="88.62" cy="369.96" r="1.85"/><circle cx="88.1" cy="370.49" r="1.85"/><circle cx="87.72" cy="371.77" r="1.85"/><circle cx="87.13" cy="372.83" r="1.85"/><circle cx="87.95" cy="374.51" r="1.85"/><circle cx="88.84" cy="375.64" r="1.85"/><circle cx="88.54" cy="378.71" r="1.85"/><circle cx="86.86" cy="378.85" r="1.85"/><circle cx="87.12" cy="380.42" r="1.85"/><circle cx="87.4" cy="382.8" r="1.85"/><circle cx="88.97" cy="384.46" r="1.85"/><circle cx="86.6" cy="384.03" r="1.85"/><circle cx="89.45" cy="385.44" r="1.85"/><circle cx="88.69" cy="388.27" r="1.85"/><circle cx="91.14" cy="388.32" r="1.85"/><circle cx="94.86" cy="390.43" r="1.85"/><circle cx="87.55" cy="391.04" r="1.85"/><circle cx="86.79" cy="393.18" r="1.85"/><circle cx="87.36" cy="395.46" r="1.85"/><circle cx="89.57" cy="395.41" r="1.85"/><circle cx="85.93" cy="397" r="1.85"/><circle cx="89.86" cy="398.71" r="1.85"/><circle cx="91.29" cy="400.58" r="1.85"/><circle cx="88.28" cy="402.02" r="1.85"/><circle cx="90.3" cy="403.75" r="1.85"/><circle cx="91.43" cy="404.79" r="1.85"/><circle cx="87.15" cy="406.02" r="1.85"/><circle cx="90.37" cy="406.63" r="1.85"/><circle cx="92.5" cy="407.35" r="1.85"/><circle cx="92.08" cy="409.19" r="1.85"/><circle cx="91.19" cy="411.44" r="1.85"/><circle cx="93.13" cy="413.3" r="1.85"/><circle cx="91.01" cy="414.78" r="1.85"/><circle cx="93.49" cy="414.63" r="1.85"/><circle cx="91.67" cy="416.02" r="1.85"/><circle cx="92.85" cy="418.19" r="1.85"/><circle cx="93.91" cy="420.12" r="1.85"/><circle cx="94.18" cy="421.01" r="1.85"/><circle cx="97.15" cy="422.68" r="1.85"/><circle cx="101.48" cy="424.28" r="1.85"/><circle cx="100.86" cy="425.4" r="1.85"/><circle cx="99.83" cy="425.57" r="1.85"/><circle cx="98.1" cy="428.17" r="1.85"/><circle cx="98.87" cy="429.92" r="1.85"/><circle cx="103.61" cy="430.14" r="1.85"/><circle cx="97.58" cy="432.18" r="1.85"/><circle cx="103.99" cy="432.45" r="1.85"/><circle cx="102.51" cy="435.3" r="1.85"/><circle cx="102.86" cy="436.48" r="1.85"/><circle cx="104.51" cy="438.21" r="1.85"/><circle cx="105.48" cy="438.94" r="1.85"/><circle cx="101.81" cy="439.26" r="1.85"/><circle cx="105.32" cy="440.41" r="1.85"/><circle cx="106.4" cy="442.81" r="1.85"/><circle cx="103.72" cy="445" r="1.85"/><circle cx="101.21" cy="446.17" r="1.85"/><circle cx="106.38" cy="446.32" r="1.85"/><circle cx="102.26" cy="447.75" r="1.85"/><circle cx="104.14" cy="449.83" r="1.85"/><circle cx="102.9" cy="450.29" r="1.85"/><circle cx="105.26" cy="453.23" r="1.85"/><circle cx="102.56" cy="453.95" r="1.85"/><circle cx="105.73" cy="455.98" r="1.85"/><circle cx="101" cy="456.55" r="1.85"/><circle cx="106.85" cy="457.99" r="1.85"/><circle cx="104.98" cy="459.18" r="1.85"/><circle cx="105.68" cy="460.05" r="1.85"/><circle cx="109.37" cy="461.4" r="1.85"/><circle cx="106.64" cy="463.39" r="1.85"/><circle cx="106.62" cy="464.47" r="1.85"/><circle cx="105.14" cy="466.23" r="1.85"/><circle cx="102.38" cy="466.79" r="1.85"/><circle cx="104.72" cy="469.07" r="1.85"/><circle cx="106.26" cy="470.88" r="1.85"/><circle cx="108.16" cy="471.73" r="1.85"/><circle cx="104.37" cy="473.91" r="1.85"/><circle cx="106.52" cy="474.35" r="1.85"/><circle cx="106.54" cy="475.87" r="1.85"/><circle cx="107.29" cy="477.61" r="1.85"/><circle cx="107.07" cy="478.56" r="1.85"/><circle cx="110.4" cy="480.86" r="1.85"/><circle cx="109.15" cy="482.24" r="1.85"/><circle cx="107.39" cy="482.26" r="1.85"/><circle cx="107.49" cy="484.8" r="1.85"/><circle cx="110.57" cy="484.77" r="1.85"/><circle cx="114.24" cy="486.02" r="1.85"/><circle cx="114.92" cy="487.73" r="1.85"/><circle cx="116.8" cy="490.2" r="1.85"/><circle cx="116.53" cy="491.8" r="1.85"/><circle cx="116.51" cy="493.62" r="1.85"/><circle cx="120.44" cy="493.04" r="1.85"/><circle cx="124.2" cy="493.87" r="1.85"/><circle cx="127.44" cy="493.85" r="1.85"/><circle cx="131.17" cy="493.39" r="1.85"/><circle cx="135.16" cy="493.73" r="1.85"/><circle cx="138.29" cy="493.33" r="1.85"/><circle cx="142.13" cy="493.24" r="1.85"/><circle cx="145.57" cy="493.22" r="1.85"/><circle cx="149.52" cy="492.92" r="1.85"/><circle cx="153.04" cy="493.34" r="1.85"/><circle cx="156.35" cy="493.23" r="1.85"/><circle cx="160.35" cy="493.41" r="1.85"/><circle cx="163.64" cy="493.89" r="1.85"/><circle cx="167.7" cy="493.87" r="1.85"/><circle cx="170.92" cy="493.17" r="1.85"/><circle cx="174.51" cy="493.68" r="1.85"/><circle cx="178.28" cy="493.03" r="1.85"/><circle cx="182" cy="493.81" r="1.85"/><circle cx="185.87" cy="493.16" r="1.85"/><circle cx="189.1" cy="493.82" r="1.85"/><circle cx="192.98" cy="493.6" r="1.85"/><circle cx="196.32" cy="492.96" r="1.85"/><circle cx="200.31" cy="493.33" r="1.85"/><circle cx="203.57" cy="493.84" r="1.85"/><circle cx="207.54" cy="493.7" r="1.85"/><circle cx="210.84" cy="493.76" r="1.85"/><circle cx="214.46" cy="493.76" r="1.85"/><circle cx="218.32" cy="493.24" r="1.85"/><circle cx="222.01" cy="493.83" r="1.85"/><circle cx="225.46" cy="493.03" r="1.85"/><circle cx="229.25" cy="493.14" r="1.85"/><circle cx="232.63" cy="493.06" r="1.85"/><circle cx="236.22" cy="493.1" r="1.85"/><circle cx="240.01" cy="493.21" r="1.85"/><circle cx="243.91" cy="493.19" r="1.85"/><circle cx="247.38" cy="493.08" r="1.85"/><circle cx="250.92" cy="492.92" r="1.85"/><circle cx="254.49" cy="492.92" r="1.85"/><circle cx="258.41" cy="493.45" r="1.85"/><circle cx="261.71" cy="493.37" r="1.85"/><circle cx="265.79" cy="493.01" r="1.85"/><circle cx="269.35" cy="493.33" r="1.85"/><circle cx="272.79" cy="493.73" r="1.85"/><circle cx="276.35" cy="493.41" r="1.85"/><circle cx="280.16" cy="493.88" r="1.85"/><circle cx="283.58" cy="493.73" r="1.85"/><circle cx="287.43" cy="493.54" r="1.85"/><circle cx="290.88" cy="493.25" r="1.85"/><circle cx="294.3" cy="493.03" r="1.85"/><circle cx="297.94" cy="493.64" r="1.85"/></g>
<path d="M69.95 281.15 L70.3 283.37 L70.65 285.57 L71 287.76 L71.35 289.95 L71.69 292.13 L72.04 294.3 L72.39 296.47 L72.74 298.62 L73.09 300.77 L73.44 302.91 L73.79 305.05 L74.14 307.17 L74.49 309.29 L74.84 311.39 L75.18 313.49 L75.53 315.59 L75.88 317.67 L76.23 319.74 L76.58 321.81 L76.93 323.87 L77.28 325.92 L77.63 327.96 L77.98 330 L78.33 332.02 L78.67 334.04 L79.02 336.05 L79.37 338.05 L79.72 340.04 L80.07 342.02 L80.42 344 L80.77 345.96 L81.12 347.92 L81.47 349.86 L81.82 351.8 L82.16 353.73 L82.51 355.66 L82.86 357.57 L83.21 359.47 L83.56 361.37 L83.91 363.25 L84.26 365.13 L84.61 366.99 L84.96 368.85 L85.31 370.7 L85.65 372.54 L86 374.37 L86.35 376.19 L86.7 378 L87.05 379.8 L87.4 381.6 L87.75 383.38 L88.1 385.15 L88.45 386.92 L88.8 388.67 L89.14 390.41 L89.49 392.15 L89.84 393.87 L90.19 395.59 L90.54 397.29 L90.89 398.98 L91.24 400.67 L91.59 402.34 L91.94 404.01 L92.29 405.66 L92.63 407.3 L92.98 408.93 L93.33 410.56 L93.68 412.17 L94.03 413.77 L94.38 415.36 L94.73 416.94 L95.08 418.51 L95.43 420.06 L95.78 421.61 L96.12 423.15 L96.47 424.67 L96.82 426.18 L97.17 427.68 L97.52 429.17 L97.87 430.65 L98.22 432.12 L98.57 433.57 L98.92 435.02 L99.27 436.45 L99.61 437.87 L99.96 439.28 L100.31 440.67 L100.66 442.05 L101.01 443.42 L101.36 444.78 L101.71 446.13 L102.06 447.46 L102.41 448.78 L102.76 450.09 L103.1 451.38 L103.45 452.66 L103.8 453.93 L104.15 455.18 L104.5 456.42 L104.85 457.64 L105.2 458.86 L105.55 460.05 L105.9 461.24 L106.25 462.4 L106.59 463.56 L106.94 464.7 L107.29 465.82 L107.64 466.93 L107.99 468.02 L108.34 469.1 L108.69 470.16 L109.04 471.2 L109.39 472.23 L109.74 473.24 L110.08 474.24 L110.43 475.21 L110.78 476.17 L111.13 477.12 L111.48 478.04 L111.83 478.94 L112.18 479.83 L112.53 480.69 L112.88 481.54 L113.23 482.36 L113.57 483.17 L113.92 483.95 L114.27 484.71 L114.62 485.45 L114.97 486.16 L115.32 486.85 L115.67 487.52 L116.02 488.15 L116.37 488.76 L116.72 489.35 L117.06 489.9 L117.41 490.42 L117.76 490.9 L118.11 491.35 L118.46 491.76 L118.81 492.13 L119.16 492.44 L119.51 492.7 L119.86 492.87 L120.21 492.9 L120.56 492.9 L120.9 492.9 L121.25 492.9 L121.6 492.9 L121.95 492.9 L122.3 492.9 L129.28 492.9 L136.26 492.9 L143.24 492.9 L150.22 492.9 L157.2 492.9 L164.18 492.9 L171.16 492.9 L178.14 492.9 L185.12 492.9 L192.1 492.9 L199.08 492.9 L206.06 492.9 L213.04 492.9 L220.02 492.9 L227 492.9 L233.98 492.9 L240.96 492.9 L247.94 492.9 L254.92 492.9 L261.9 492.9 L268.88 492.9 L275.86 492.9 L282.84 492.9 L289.82 492.9 L296.8 492.9" fill="none" stroke="#000" stroke-width="2.2" clip-path="url(#cc)"/>
<rect x="52.5" y="301.5" width="244.5" height="196.7" fill="none" stroke="#505050" stroke-width="1.3"/>
<line x1="52.5" y1="492.9" x2="56.0" y2="492.9" stroke="#505050" stroke-width="1.1"/>
<text x="47.8" y="496.6" font-size="12.7" font-weight="bold" text-anchor="end">0</text>
<line x1="52.5" y1="480.13" x2="54.5" y2="480.13" stroke="#505050" stroke-width="1.1"/>
<line x1="52.5" y1="467.37" x2="56.0" y2="467.37" stroke="#505050" stroke-width="1.1"/>
<text x="47.8" y="471.07" font-size="12.7" font-weight="bold" text-anchor="end">5</text>
<line x1="52.5" y1="454.6" x2="54.5" y2="454.6" stroke="#505050" stroke-width="1.1"/>
<line x1="52.5" y1="441.84" x2="56.0" y2="441.84" stroke="#505050" stroke-width="1.1"/>
<text x="47.8" y="445.54" font-size="12.7" font-weight="bold" text-anchor="end">10</text>
<line x1="52.5" y1="429.07" x2="54.5" y2="429.07" stroke="#505050" stroke-width="1.1"/>
<line x1="52.5" y1="416.31" x2="56.0" y2="416.31" stroke="#505050" stroke-width="1.1"/>
<text x="47.8" y="420.01" font-size="12.7" font-weight="bold" text-anchor="end">15</text>
<line x1="52.5" y1="403.54" x2="54.5" y2="403.54" stroke="#505050" stroke-width="1.1"/>
<line x1="52.5" y1="390.78" x2="56.0" y2="390.78" stroke="#505050" stroke-width="1.1"/>
<text x="47.8" y="394.48" font-size="12.7" font-weight="bold" text-anchor="end">20</text>
<line x1="52.5" y1="378.01" x2="54.5" y2="378.01" stroke="#505050" stroke-width="1.1"/>
<line x1="52.5" y1="365.25" x2="56.0" y2="365.25" stroke="#505050" stroke-width="1.1"/>
<text x="47.8" y="368.95" font-size="12.7" font-weight="bold" text-anchor="end">25</text>
<line x1="52.5" y1="352.49" x2="54.5" y2="352.49" stroke="#505050" stroke-width="1.1"/>
<line x1="52.5" y1="339.72" x2="56.0" y2="339.72" stroke="#505050" stroke-width="1.1"/>
<text x="47.8" y="343.42" font-size="12.7" font-weight="bold" text-anchor="end">30</text>
<line x1="52.5" y1="326.95" x2="54.5" y2="326.95" stroke="#505050" stroke-width="1.1"/>
<line x1="52.5" y1="314.19" x2="56.0" y2="314.19" stroke="#505050" stroke-width="1.1"/>
<text x="47.8" y="317.89" font-size="12.7" font-weight="bold" text-anchor="end">35</text>
<line x1="52.5" y1="498.2" x2="52.5" y2="494.2" stroke="#505050" stroke-width="1.1"/>
<text x="52.5" y="512.8" font-size="12.8" font-weight="bold" text-anchor="middle">0</text>
<line x1="87.4" y1="498.2" x2="87.4" y2="495.9" stroke="#505050" stroke-width="1.1"/>
<line x1="122.3" y1="498.2" x2="122.3" y2="494.2" stroke="#505050" stroke-width="1.1"/>
<text x="122.3" y="512.8" font-size="12.8" font-weight="bold" text-anchor="middle">10</text>
<line x1="157.2" y1="498.2" x2="157.2" y2="495.9" stroke="#505050" stroke-width="1.1"/>
<line x1="192.1" y1="498.2" x2="192.1" y2="494.2" stroke="#505050" stroke-width="1.1"/>
<text x="192.1" y="512.8" font-size="12.8" font-weight="bold" text-anchor="middle">20</text>
<line x1="227" y1="498.2" x2="227" y2="495.9" stroke="#505050" stroke-width="1.1"/>
<line x1="261.9" y1="498.2" x2="261.9" y2="494.2" stroke="#505050" stroke-width="1.1"/>
<text x="261.9" y="512.8" font-size="12.8" font-weight="bold" text-anchor="middle">30</text>
<line x1="296.8" y1="498.2" x2="296.8" y2="495.9" stroke="#505050" stroke-width="1.1"/>
<rect x="162.0" y="301.5" width="134.0" height="107.5" fill="#fff" stroke="#808080" stroke-width="1.3"/>
<line x1="159.0" y1="409" x2="162.0" y2="409" stroke="#808080" stroke-width="1"/>
<text x="158.5" y="412.5" font-size="10" font-weight="bold" text-anchor="end">0</text>
<line x1="160.4" y1="399.23" x2="162.0" y2="399.23" stroke="#808080" stroke-width="1"/>
<line x1="159.0" y1="389.45" x2="162.0" y2="389.45" stroke="#808080" stroke-width="1"/>
<text x="158.5" y="392.95" font-size="10" font-weight="bold" text-anchor="end">100</text>
<line x1="160.4" y1="379.68" x2="162.0" y2="379.68" stroke="#808080" stroke-width="1"/>
<line x1="159.0" y1="369.9" x2="162.0" y2="369.9" stroke="#808080" stroke-width="1"/>
<text x="158.5" y="373.4" font-size="10" font-weight="bold" text-anchor="end">200</text>
<line x1="160.4" y1="360.12" x2="162.0" y2="360.12" stroke="#808080" stroke-width="1"/>
<line x1="159.0" y1="350.35" x2="162.0" y2="350.35" stroke="#808080" stroke-width="1"/>
<text x="158.5" y="353.85" font-size="10" font-weight="bold" text-anchor="end">300</text>
<line x1="160.4" y1="340.57" x2="162.0" y2="340.57" stroke="#808080" stroke-width="1"/>
<line x1="159.0" y1="330.8" x2="162.0" y2="330.8" stroke="#808080" stroke-width="1"/>
<text x="158.5" y="334.3" font-size="10" font-weight="bold" text-anchor="end">400</text>
<line x1="160.4" y1="321.02" x2="162.0" y2="321.02" stroke="#808080" stroke-width="1"/>
<line x1="159.0" y1="311.25" x2="162.0" y2="311.25" stroke="#808080" stroke-width="1"/>
<text x="158.5" y="314.75" font-size="10" font-weight="bold" text-anchor="end">500</text>
<line x1="183.5" y1="409.0" x2="183.5" y2="406.5" stroke="#808080" stroke-width="1"/>
<line x1="227.2" y1="409.0" x2="227.2" y2="406.5" stroke="#808080" stroke-width="1"/>
<line x1="270.5" y1="409.0" x2="270.5" y2="406.5" stroke="#808080" stroke-width="1"/>
<line x1="205.4" y1="409.0" x2="205.4" y2="407.4" stroke="#808080" stroke-width="1"/>
<line x1="248.9" y1="409.0" x2="248.9" y2="407.4" stroke="#808080" stroke-width="1"/>
<line x1="162" y1="352.2" x2="296" y2="352.2" stroke="#000" stroke-width="2" stroke-dasharray="6.5 4.7"/>
<g stroke="#f03030" stroke-width="1.3"><line x1="183.5" y1="394.0" x2="183.5" y2="397.3"/><line x1="177.2" y1="394.0" x2="189.8" y2="394.0"/><line x1="177.2" y1="397.3" x2="189.8" y2="397.3"/></g>
<circle cx="183.5" cy="395.5" r="3.8" fill="#ff0000"/>
<circle cx="182.5" cy="394.2" r="1.2" fill="#ffb0b0"/>
<g stroke="#f03030" stroke-width="1.3"><line x1="227.2" y1="338.3" x2="227.2" y2="373.4"/><line x1="220.89999999999998" y1="338.3" x2="233.5" y2="338.3"/><line x1="220.89999999999998" y1="373.4" x2="233.5" y2="373.4"/></g>
<circle cx="227.2" cy="356.0" r="3.8" fill="#ff0000"/>
<circle cx="226.2" cy="354.7" r="1.2" fill="#ffb0b0"/>
<g stroke="#f03030" stroke-width="1.3"><line x1="270.5" y1="316.5" x2="270.5" y2="342.0"/><line x1="264.2" y1="316.5" x2="276.8" y2="316.5"/><line x1="264.2" y1="342.0" x2="276.8" y2="342.0"/></g>
<circle cx="270.5" cy="329.2" r="3.8" fill="#ff0000"/>
<circle cx="269.5" cy="327.9" r="1.2" fill="#ffb0b0"/>
<text transform="translate(134.6,373.3) rotate(-90)" font-size="12.2" font-weight="bold" textLength="46" lengthAdjust="spacingAndGlyphs">E (GPa)</text>
<text transform="translate(186.9,424.2) rotate(-15)" font-size="10.8" font-weight="bold" text-anchor="middle">Silica</text>
<text transform="translate(229.9,423.2) rotate(-15)" font-size="10.8" font-weight="bold" text-anchor="middle">Nd:YAG</text>
<text transform="translate(274,424.6) rotate(-15)" font-size="10.8" font-weight="bold" text-anchor="middle">Sapphire</text>
<rect x="126.6" y="432.8" width="126.4" height="54.6" fill="#fff" stroke="#a0a0a0" stroke-width="1"/>
<circle cx="144" cy="443" r="1.6" fill="none" stroke="#f00" stroke-width="0.8"/>
<line x1="128" y1="460.6" x2="160" y2="460.6" stroke="#000" stroke-width="2"/>
<text x="164.1" y="447.2" font-size="13.5" font-weight="bold" textLength="77.9" lengthAdjust="spacingAndGlyphs">Force curve</text>
<text x="164.1" y="464.8" font-size="13.5" font-weight="bold" textLength="82" lengthAdjust="spacingAndGlyphs">Hertz model,</text>
<text x="129.2" y="482.2" font-size="13.5" font-weight="bold" textLength="79" lengthAdjust="spacingAndGlyphs">E = 292 GPa</text>
<g transform="translate(20.4,453.2) rotate(-90)"><text x="0" y="0" font-size="22.4" font-weight="bold">Force</text><text x="67.5" y="0" font-size="16.5" font-family="Liberation Serif">(</text><text x="73.4" y="0" font-size="21.5" font-family="Liberation Serif">µ</text><text x="86.3" y="0" font-size="22" font-weight="bold">N</text><text x="101.7" y="0" font-size="16.5" font-family="Liberation Serif">)</text></g>
<text x="78" y="537.4" font-size="22" font-weight="bold" textLength="192" lengthAdjust="spacingAndGlyphs">Separation, <tspan font-family="Liberation Serif" font-weight="normal">δ</tspan> (nm)</text>
<text transform="translate(-0.5,301.6) scale(0.8,1)" font-size="37" font-weight="bold">c</text>
<clipPath id="cd"><rect x="421.7" y="291.5" width="245.3" height="196.89999999999998"/></clipPath>
<path d="M444.3 383.6h4v4h-4Z M444.3 397h4v4h-4Z M444.3 423.5h4v4h-4Z M456.5 402.5h4v4h-4Z M456.5 405h4v4h-4Z M456.5 410.3h4v4h-4Z M456.5 427.1h4v4h-4Z M468.7 401.3h4v4h-4Z M468.7 412.5h4v4h-4Z M468.7 423.7h4v4h-4Z M468.7 437.5h4v4h-4Z M481.2 421.7h4v4h-4Z M481.2 431.8h4v4h-4Z M481.2 436.6h4v4h-4Z M481.4 458.4h4v4h-4Z M481.4 460.5h4v4h-4Z M481.4 470h4v4h-4Z M481.4 472.2h4v4h-4Z M493.4 445.7h4v4h-4Z M493.4 462.2h4v4h-4Z M499.4 434.1h4v4h-4Z M499.4 448.5h4v4h-4Z M505.7 461.2h4v4h-4Z M505.7 473.2h4v4h-4Z M542.2 442.3h4v4h-4Z M542.2 463.2h4v4h-4Z M542.2 470.2h4v4h-4Z M554.7 454h4v4h-4Z M554.7 457.5h4v4h-4Z M554.7 461h4v4h-4Z M554.7 464.5h4v4h-4Z M554.7 468.9h4v4h-4Z M554.7 475.9h4v4h-4Z M566.8 454.6h4v4h-4Z M566.8 468.3h4v4h-4Z M566.8 471.1h4v4h-4Z M566.8 475.3h4v4h-4Z M578.8 457.9h4v4h-4Z M578.8 462.6h4v4h-4Z M578.8 467.3h4v4h-4Z M578.8 472.1h4v4h-4Z M578.8 475.9h4v4h-4Z M578.8 478.7h4v4h-4Z M591.5 441.2h4v4h-4Z M591.5 449.9h4v4h-4Z M591.5 456h4v4h-4Z M591.5 462h4v4h-4Z M603.5 449.3h4v4h-4Z M603.5 453.1h4v4h-4Z M603.5 469.6h4v4h-4Z M628.1 444.2h4v4h-4Z M628.1 454.4h4v4h-4Z M640.5 431.3h4v4h-4Z M640.5 437h4v4h-4Z M640.5 440.5h4v4h-4Z M640.5 444h4v4h-4Z M640.5 447.5h4v4h-4Z M640.5 451h4v4h-4Z M640.5 454.5h4v4h-4Z M640.5 458h4v4h-4Z M640.5 460.7h4v4h-4Z" fill="#000"/>
<line x1="421.7" y1="488" x2="458.48" y2="281.67" stroke="#00ee00" stroke-width="2" stroke-dasharray="4.8 3.2" clip-path="url(#cd)"/>
<path d="M456.03 270.55 L456.52 278.04 L457.01 285.18 L457.5 291.98 L457.99 298.46 L458.48 304.64 L458.97 310.54 L459.46 316.18 L459.95 321.56 L460.44 326.71 L460.93 331.64 L461.42 336.36 L461.91 340.88 L462.4 345.2 L462.89 349.36 L463.38 353.34 L463.87 357.16 L464.36 360.83 L464.86 364.35 L465.35 367.74 L465.84 370.99 L466.33 374.12 L466.82 377.14 L467.31 380.04 L467.8 382.83 L468.29 385.52 L468.78 388.11 L469.27 390.61 L469.76 393.02 L470.25 395.35 L470.74 397.59 L471.23 399.76 L471.72 401.85 L472.21 403.87 L472.7 405.83 L473.19 407.72 L473.68 409.54 L474.17 411.31 L474.66 413.02 L475.15 414.67 L475.64 416.27 L476.13 417.82 L476.62 419.32 L477.12 420.77 L477.61 422.18 L478.1 423.55 L478.59 424.87 L479.08 426.15 L479.57 427.4 L480.06 428.61 L480.55 429.78 L481.04 430.92 L481.53 432.02 L482.02 433.09 L482.51 434.13 L483 435.15 L483.49 436.13 L483.98 437.08 L484.47 438.01 L484.96 438.91 L485.45 439.79 L485.94 440.65 L486.43 441.47 L486.92 442.28 L487.41 443.07 L487.9 443.83 L488.39 444.57 L488.88 445.3 L489.38 446 L489.87 446.69 L490.36 447.36 L490.85 448.01 L491.34 448.64 L491.83 449.26 L492.32 449.86 L492.81 450.44 L493.3 451.01 L493.79 451.57 L494.28 452.11 L494.77 452.64 L495.26 453.16 L495.75 453.66 L496.24 454.15 L496.73 454.62 L497.22 455.09 L497.71 455.54 L498.2 455.99 L498.69 456.42 L499.18 456.84 L499.67 457.25 L500.16 457.65 L500.65 458.04 L501.14 458.42 L501.64 458.8 L502.13 459.16 L502.62 459.52 L503.11 459.86 L503.6 460.2 L504.09 460.53 L504.58 460.85 L505.07 461.16 L505.56 461.47 L506.05 461.77 L506.54 462.06 L507.03 462.35 L507.52 462.62 L508.01 462.9 L508.5 463.16 L508.99 463.42 L509.48 463.67 L509.97 463.92 L510.46 464.16 L510.95 464.39 L511.44 464.62 L511.93 464.85 L512.42 465.06 L512.91 465.28 L513.4 465.48 L513.9 465.69 L514.39 465.88 L514.88 466.08 L515.37 466.26 L515.86 466.45 L516.35 466.63 L516.84 466.8 L517.33 466.97 L517.82 467.14 L518.31 467.3 L518.8 467.46 L519.29 467.61 L519.78 467.76 L522.23 468.45 L524.68 469.05 L527.14 469.58 L529.59 470.03 L532.04 470.41 L534.49 470.74 L536.94 471 L539.4 471.22 L541.85 471.38 L544.3 471.5 L546.75 471.58 L549.2 471.62 L551.66 471.62 L554.11 471.59 L556.56 471.52 L559.01 471.41 L561.46 471.28 L563.92 471.12 L566.37 470.93 L568.82 470.72 L571.27 470.48 L573.72 470.21 L576.18 469.92 L578.63 469.61 L581.08 469.27 L583.53 468.92 L585.98 468.54 L588.44 468.14 L590.89 467.72 L593.34 467.28 L595.79 466.82 L598.24 466.34 L600.7 465.84 L603.15 465.32 L605.6 464.79 L608.05 464.24 L610.5 463.67 L612.96 463.08 L615.41 462.47 L617.86 461.85 L620.31 461.21 L622.76 460.55 L625.22 459.87 L627.67 459.18 L630.12 458.47 L632.57 457.75 L635.02 457.01 L637.48 456.25 L639.93 455.47 L642.38 454.68 L644.83 453.88 L647.28 453.05 L649.74 452.21 L652.19 451.35 L654.64 450.48 L657.09 449.59 L659.54 448.69 L662 447.76 L664.45 446.83 L666.9 445.87" fill="none" stroke="#0000ff" stroke-width="2" stroke-dasharray="4.8 3.2" clip-path="url(#cd)"/>
<path d="M421.76 487.65 L424.76 470.47 L427.83 453 L430.89 435.86 L433.96 419.54 L437.02 404.77 L440.09 392.43 L443.15 383.32 L446.22 377.95 L449.28 376.38 L452.35 378.21 L455.41 382.69 L458.48 388.97 L461.54 396.26 L464.61 403.91 L467.68 411.45 L470.74 418.59 L473.81 425.19 L476.87 431.17 L479.94 436.52 L483 441.27 L489.13 449.15 L495.26 455.23 L501.39 459.87 L507.52 463.41 L513.65 466.09 L519.78 468.09 L525.91 469.54 L532.04 470.56 L538.17 471.21 L544.3 471.57 L556.56 471.54 L568.82 470.73 L581.08 469.29 L593.34 467.31 L605.6 464.85 L617.86 461.94 L630.12 458.63 L642.38 454.91 L654.64 450.8 L666.9 446.31" fill="none" stroke="#ff0000" stroke-width="2" stroke-linejoin="round" clip-path="url(#cd)"/>
<rect x="421.7" y="291.5" width="245.3" height="196.89999999999998" fill="none" stroke="#505050" stroke-width="1.2"/>
<line x1="417.7" y1="488" x2="421.7" y2="488" stroke="#505050" stroke-width="1.1"/>
<text x="414.5" y="491.8" font-size="12.8" font-weight="bold" text-anchor="end">0</text>
<line x1="419.4" y1="455.25" x2="421.7" y2="455.25" stroke="#505050" stroke-width="1.1"/>
<line x1="417.7" y1="422.5" x2="421.7" y2="422.5" stroke="#505050" stroke-width="1.1"/>
<text x="414.5" y="426.3" font-size="12.8" font-weight="bold" text-anchor="end">10000</text>
<line x1="419.4" y1="389.75" x2="421.7" y2="389.75" stroke="#505050" stroke-width="1.1"/>
<line x1="417.7" y1="357" x2="421.7" y2="357" stroke="#505050" stroke-width="1.1"/>
<text x="414.5" y="360.8" font-size="12.8" font-weight="bold" text-anchor="end">20000</text>
<line x1="419.4" y1="324.25" x2="421.7" y2="324.25" stroke="#505050" stroke-width="1.1"/>
<line x1="417.7" y1="291.5" x2="421.7" y2="291.5" stroke="#505050" stroke-width="1.1"/>
<text x="414.5" y="295.3" font-size="12.8" font-weight="bold" text-anchor="end">30000</text>
<line x1="421.7" y1="488.4" x2="421.7" y2="492.4" stroke="#505050" stroke-width="1.1"/>
<text x="421.7" y="505" font-size="12.8" font-weight="bold" text-anchor="middle">0</text>
<line x1="452.35" y1="488.4" x2="452.35" y2="490.7" stroke="#505050" stroke-width="1.1"/>
<line x1="483" y1="488.4" x2="483" y2="492.4" stroke="#505050" stroke-width="1.1"/>
<text x="483" y="505" font-size="12.8" font-weight="bold" text-anchor="middle">500</text>
<line x1="513.65" y1="488.4" x2="513.65" y2="490.7" stroke="#505050" stroke-width="1.1"/>
<line x1="544.3" y1="488.4" x2="544.3" y2="492.4" stroke="#505050" stroke-width="1.1"/>
<text x="544.3" y="505" font-size="12.8" font-weight="bold" text-anchor="middle">1000</text>
<line x1="574.95" y1="488.4" x2="574.95" y2="490.7" stroke="#505050" stroke-width="1.1"/>
<line x1="605.6" y1="488.4" x2="605.6" y2="492.4" stroke="#505050" stroke-width="1.1"/>
<text x="605.6" y="505" font-size="12.8" font-weight="bold" text-anchor="middle">1500</text>
<line x1="636.25" y1="488.4" x2="636.25" y2="490.7" stroke="#505050" stroke-width="1.1"/>
<line x1="666.9" y1="488.4" x2="666.9" y2="492.4" stroke="#505050" stroke-width="1.1"/>
<text x="666.9" y="505" font-size="12.8" font-weight="bold" text-anchor="middle">2000</text>
<rect x="525" y="304.6" width="3.2" height="3.2" fill="#000"/>
<text x="550" y="311.9" font-size="16" font-weight="bold" textLength="104" lengthAdjust="spacingAndGlyphs">Experimental</text>
<line x1="507" y1="326.8" x2="546" y2="326.8" stroke="#00ee00" stroke-width="2" stroke-dasharray="4.8 3.2"/>
<line x1="507" y1="351.6" x2="546" y2="351.6" stroke="#0000ff" stroke-width="2" stroke-dasharray="4.8 3.2"/>
<line x1="507" y1="377.4" x2="546" y2="377.4" stroke="#ff0000" stroke-width="1.8"/>
<text x="550.9" y="332.2" font-size="16" font-weight="bold">Q<tspan font-size="11.5" dy="5">surf</tspan></text>
<text x="550.9" y="357" font-size="16" font-weight="bold">Q<tspan font-size="11.5" dy="5.2">TED</tspan></text>
<text x="550.5" y="383" font-size="16" font-weight="bold">(Q<tspan font-size="11.5" dy="4.5">surf</tspan><tspan font-size="11.5" dy="-10.5">-1</tspan><tspan dy="6">+Q</tspan><tspan font-size="11.5" dy="4.5">TED</tspan><tspan dy="-4.5">)</tspan><tspan font-size="11.5" dy="-6">-1</tspan></text>
<text transform="translate(371.5,435.6) rotate(-90)" font-size="23" font-weight="bold" textLength="93.3" lengthAdjust="spacingAndGlyphs">Q factor</text>
<text x="456.5" y="535.6" font-size="23.8" font-weight="bold" textLength="176.6" lengthAdjust="spacingAndGlyphs">Thickness (nm)</text>
<text transform="translate(349.5,301.6) scale(0.9,1)" font-size="37" font-weight="bold">d</text>
</svg>
</body></html>
